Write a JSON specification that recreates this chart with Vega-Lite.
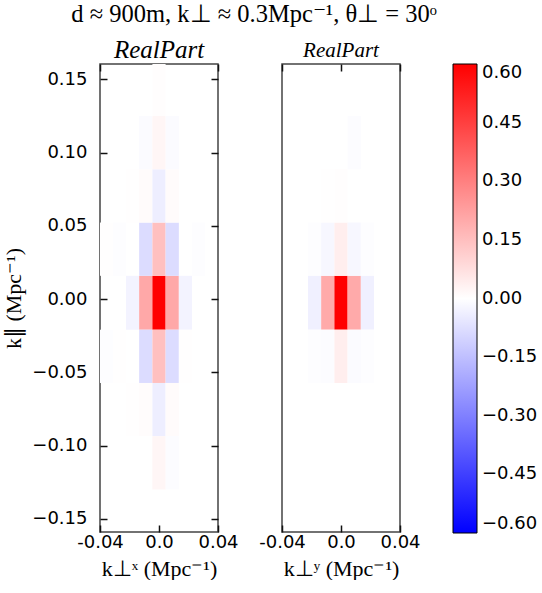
{
  "$schema": "https://vega.github.io/schema/vega-lite/v6.json",
  "background": "white",
  "padding": {"left": 2, "top": 2, "right": 0, "bottom": 0},
  "title": {"text": "d ≈ 900m, k⊥ ≈ 0.3Mpc⁻¹, θ⊥ = 30ᵒ", "font": "Liberation Serif", "fontSize": 24.5, "fontWeight": "normal", "color": "black", "anchor": "middle", "offset": 10, "dx": -16},
  "datasets": {
    "left": [
      {"x0": -0.02241, "x1": -0.01345, "y0": -0.0209, "y1": 0.0159, "v": -0.028},
      {"x0": -0.01345, "x1": -0.00448, "y0": -0.0209, "y1": 0.0159, "v": 0.205},
      {"x0": -0.00448, "x1": 0.00448, "y0": -0.0209, "y1": 0.0159, "v": 0.6},
      {"x0": 0.00448, "x1": 0.01345, "y0": -0.0209, "y1": 0.0159, "v": 0.205},
      {"x0": 0.01345, "x1": 0.02241, "y0": -0.0209, "y1": 0.0159, "v": -0.028},
      {"x0": -0.04034, "x1": -0.03138, "y0": 0.0159, "y1": 0.05226, "v": 0.002},
      {"x0": -0.03138, "x1": -0.02241, "y0": 0.0159, "y1": 0.05226, "v": -0.004},
      {"x0": -0.01345, "x1": -0.00448, "y0": 0.0159, "y1": 0.05226, "v": -0.082},
      {"x0": -0.00448, "x1": 0.00448, "y0": 0.0159, "y1": 0.05226, "v": 0.148},
      {"x0": 0.00448, "x1": 0.01345, "y0": 0.0159, "y1": 0.05226, "v": -0.082},
      {"x0": 0.02241, "x1": 0.03138, "y0": 0.0159, "y1": 0.05226, "v": -0.004},
      {"x0": -0.04034, "x1": -0.03138, "y0": -0.05726, "y1": -0.0209, "v": -0.005},
      {"x0": -0.03138, "x1": -0.02241, "y0": -0.05726, "y1": -0.0209, "v": 0.002},
      {"x0": -0.01345, "x1": -0.00448, "y0": -0.05726, "y1": -0.0209, "v": -0.082},
      {"x0": -0.00448, "x1": 0.00448, "y0": -0.05726, "y1": -0.0209, "v": 0.148},
      {"x0": 0.00448, "x1": 0.01345, "y0": -0.05726, "y1": -0.0209, "v": -0.082},
      {"x0": 0.01345, "x1": 0.02241, "y0": -0.05726, "y1": -0.0209, "v": 0.002},
      {"x0": -0.02241, "x1": -0.01345, "y0": 0.05226, "y1": 0.08862, "v": 0.002},
      {"x0": -0.01345, "x1": -0.00448, "y0": 0.05226, "y1": 0.08862, "v": 0.01},
      {"x0": -0.00448, "x1": 0.00448, "y0": 0.05226, "y1": 0.08862, "v": -0.04},
      {"x0": 0.00448, "x1": 0.01345, "y0": 0.05226, "y1": 0.08862, "v": 0.01},
      {"x0": -0.02241, "x1": -0.01345, "y0": -0.09362, "y1": -0.05726, "v": 0.003},
      {"x0": -0.01345, "x1": -0.00448, "y0": -0.09362, "y1": -0.05726, "v": 0.008},
      {"x0": -0.00448, "x1": 0.00448, "y0": -0.09362, "y1": -0.05726, "v": -0.04},
      {"x0": 0.00448, "x1": 0.01345, "y0": -0.09362, "y1": -0.05726, "v": 0.01},
      {"x0": -0.01345, "x1": -0.00448, "y0": 0.08862, "y1": 0.12498, "v": -0.01},
      {"x0": -0.00448, "x1": 0.00448, "y0": 0.08862, "y1": 0.12498, "v": 0.02},
      {"x0": 0.00448, "x1": 0.01345, "y0": 0.08862, "y1": 0.12498, "v": -0.01},
      {"x0": -0.00448, "x1": 0.00448, "y0": -0.12998, "y1": -0.09362, "v": 0.02},
      {"x0": 0.00448, "x1": 0.01345, "y0": -0.12998, "y1": -0.09362, "v": -0.006},
      {"x0": -0.00448, "x1": 0.00448, "y0": 0.12498, "y1": 0.16134, "v": 0.004}
    ],
    "right": [
      {"x0": -0.02241, "x1": -0.01345, "y0": -0.0209, "y1": 0.0159, "v": -0.035},
      {"x0": -0.01345, "x1": -0.00448, "y0": -0.0209, "y1": 0.0159, "v": 0.2},
      {"x0": -0.00448, "x1": 0.00448, "y0": -0.0209, "y1": 0.0159, "v": 0.6},
      {"x0": 0.00448, "x1": 0.01345, "y0": -0.0209, "y1": 0.0159, "v": 0.2},
      {"x0": 0.01345, "x1": 0.02241, "y0": -0.0209, "y1": 0.0159, "v": -0.035},
      {"x0": -0.02241, "x1": -0.01345, "y0": 0.0159, "y1": 0.05226, "v": -0.004},
      {"x0": -0.01345, "x1": -0.00448, "y0": 0.0159, "y1": 0.05226, "v": -0.018},
      {"x0": -0.00448, "x1": 0.00448, "y0": 0.0159, "y1": 0.05226, "v": 0.04},
      {"x0": 0.00448, "x1": 0.01345, "y0": 0.0159, "y1": 0.05226, "v": -0.018},
      {"x0": 0.01345, "x1": 0.02241, "y0": 0.0159, "y1": 0.05226, "v": -0.004},
      {"x0": -0.02241, "x1": -0.01345, "y0": -0.05726, "y1": -0.0209, "v": -0.004},
      {"x0": -0.01345, "x1": -0.00448, "y0": -0.05726, "y1": -0.0209, "v": -0.008},
      {"x0": -0.00448, "x1": 0.00448, "y0": -0.05726, "y1": -0.0209, "v": 0.04},
      {"x0": 0.00448, "x1": 0.01345, "y0": -0.05726, "y1": -0.0209, "v": -0.01},
      {"x0": 0.01345, "x1": 0.02241, "y0": -0.05726, "y1": -0.0209, "v": -0.004},
      {"x0": -0.01345, "x1": -0.00448, "y0": 0.05226, "y1": 0.08862, "v": 0.003},
      {"x0": -0.00448, "x1": 0.00448, "y0": 0.05226, "y1": 0.08862, "v": 0.004},
      {"x0": 0.00448, "x1": 0.01345, "y0": 0.08862, "y1": 0.12498, "v": -0.006}
    ]
  },
  "config": {
    "view": {"stroke": "#444", "strokeWidth": 1.5},
    "axis": {
      "labelFont": "DejaVu Sans", "labelFontSize": 18, "labelColor": "black",
      "tickColor": "#111", "tickSize": -7, "tickWidth": 1.5,
      "domain": false, "grid": false, "labelFlush": false, "labelOverlap": false,
      "titleFont": "Liberation Serif", "titleFontSize": 22, "titleFontWeight": "normal", "titleColor": "black"
    },
    "legend": {
      "labelFont": "DejaVu Sans", "labelFontSize": 18, "labelColor": "black"
    }
  },
  "hconcat": [
    {
      "title": {"text": "RealPart", "font": "Liberation Serif", "fontStyle": "italic", "fontSize": 25, "fontWeight": "normal", "color": "black", "offset": 0},
      "width": 118, "height": 468,
      "data": {"name": "left"},
      "layer": [
        {
          "mark": {"type": "rect", "clip": true},
          "encoding": {
            "x": {"field": "x0", "type": "quantitative", "scale": {"domain": [-0.04, 0.04], "nice": false, "zero": false},
                  "axis": {"values": [-0.04, 0, 0.04], "labelExpr": "datum.value == 0 ? '0.0' : replace(format(datum.value, '.2f'), '−', '-')", "title": "k⊥ˣ (Mpc⁻¹)", "labelPadding": 8, "titlePadding": 7}},
            "x2": {"field": "x1"},
            "y": {"field": "y0", "type": "quantitative", "scale": {"domain": [-0.159, 0.1605], "nice": false, "zero": false},
                  "axis": {"values": [-0.15, -0.1, -0.05, 0, 0.05, 0.1, 0.15], "labelExpr": "replace(format(datum.value, '.2f'), '-', '−')", "title": "k∥ (Mpc⁻¹)", "labelPadding": 20, "titlePadding": 6}},
            "y2": {"field": "y1"},
            "color": {"field": "v", "type": "quantitative",
                      "scale": {"type": "linear", "domain": [-0.6, 0, 0.6], "range": ["#0000ff", "#ffffff", "#ff0000"], "interpolate": "rgb", "clamp": true},
                      "legend": {"title": null, "values": [-0.6, -0.45, -0.3, -0.15, 0, 0.15, 0.3, 0.45, 0.6], "labelExpr": "replace(format(datum.value, '.2f'), '-', '−')", "gradientLength": 469, "gradientThickness": 24, "gradientStrokeColor": "black", "gradientStrokeWidth": 1, "offset": 32, "labelOffset": 5}}
          }
        },
        {
          "mark": {"type": "rect", "clip": true, "opacity": 0},
          "encoding": {
            "x": {"field": "x0", "type": "quantitative", "scale": {"domain": [-0.04, 0.04], "nice": false, "zero": false},
                  "axis": {"orient": "top", "values": [-0.04, 0, 0.04], "labels": false, "title": null}},
            "x2": {"field": "x1"},
            "y": {"field": "y0", "type": "quantitative", "scale": {"domain": [-0.159, 0.1605], "nice": false, "zero": false},
                  "axis": {"orient": "right", "values": [-0.15, -0.1, -0.05, 0, 0.05, 0.1, 0.15], "labels": false, "title": null}},
            "y2": {"field": "y1"}
          }
        }
      ],
      "resolve": {"axis": {"x": "independent", "y": "independent"}}
    },
    {
      "title": {"text": "RealPart", "font": "Liberation Serif", "fontStyle": "italic", "fontSize": 21, "fontWeight": "normal", "color": "black", "offset": 2},
      "width": 118, "height": 468,
      "data": {"name": "right"},
      "layer": [
        {
          "mark": {"type": "rect", "clip": true},
          "encoding": {
            "x": {"field": "x0", "type": "quantitative", "scale": {"domain": [-0.04, 0.04], "nice": false, "zero": false},
                  "axis": {"values": [-0.04, 0, 0.04], "labelExpr": "datum.value == 0 ? '0.0' : replace(format(datum.value, '.2f'), '−', '-')", "title": "k⊥ʸ (Mpc⁻¹)", "labelPadding": 8, "titlePadding": 7}},
            "x2": {"field": "x1"},
            "y": {"field": "y0", "type": "quantitative", "scale": {"domain": [-0.159, 0.1605], "nice": false, "zero": false}, "axis": null},
            "y2": {"field": "y1"},
            "color": {"field": "v", "type": "quantitative",
                      "scale": {"type": "linear", "domain": [-0.6, 0, 0.6], "range": ["#0000ff", "#ffffff", "#ff0000"], "interpolate": "rgb", "clamp": true}}
          }
        },
        {
          "mark": {"type": "rect", "clip": true, "opacity": 0},
          "encoding": {
            "x": {"field": "x0", "type": "quantitative", "scale": {"domain": [-0.04, 0.04], "nice": false, "zero": false},
                  "axis": {"orient": "top", "values": [-0.04, 0, 0.04], "labels": false, "title": null}},
            "x2": {"field": "x1"},
            "y": {"field": "y0", "type": "quantitative", "scale": {"domain": [-0.159, 0.1605], "nice": false, "zero": false}, "axis": null},
            "y2": {"field": "y1"}
          }
        }
      ],
      "resolve": {"axis": {"x": "independent", "y": "independent"}}
    }
  ],
  "spacing": 18,
  "resolve": {"scale": {"color": "shared"}}
}
